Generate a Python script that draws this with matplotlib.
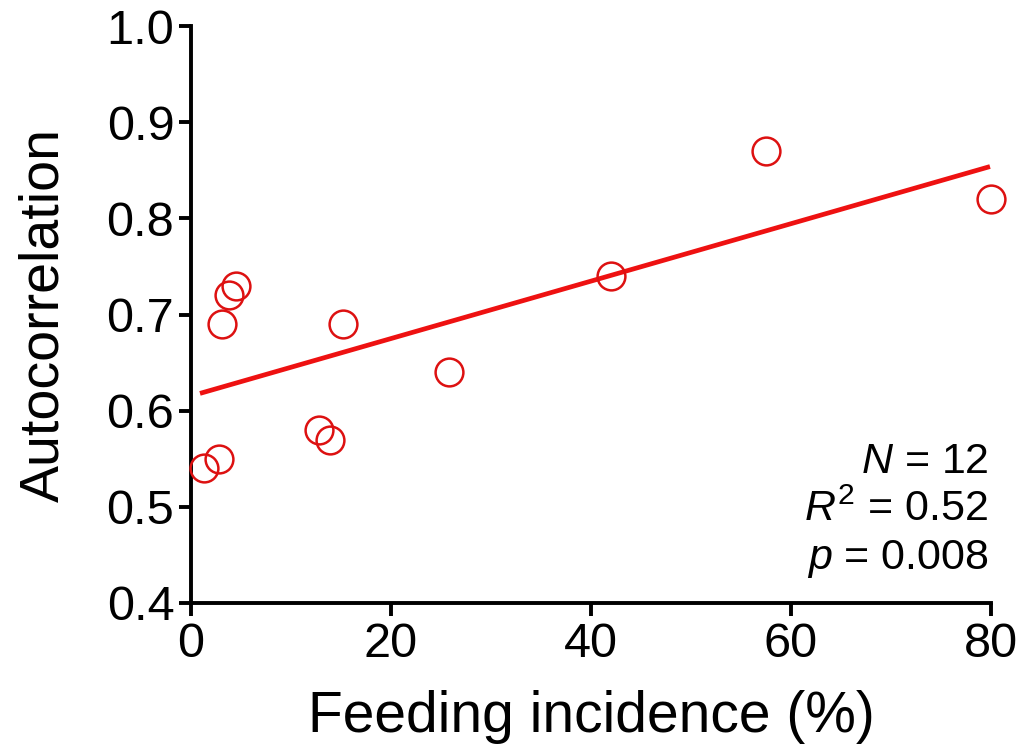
import matplotlib
matplotlib.use("Agg")
from matplotlib import pyplot as plt

plt.rcParams['font.family'] = ['Liberation Sans', 'DejaVu Sans']
plt.rcParams['mathtext.fontset'] = 'custom'
plt.rcParams['mathtext.it'] = 'Liberation Sans:italic'
plt.rcParams['mathtext.rm'] = 'Liberation Sans'

# data
feeding = [1.3, 2.8, 3.1, 3.8, 4.5, 12.8, 13.9, 15.2, 25.8, 42.0, 57.5, 80.0]
autocorr = [0.54, 0.55, 0.69, 0.72, 0.73, 0.58, 0.57, 0.69, 0.64, 0.74, 0.87, 0.82]
fit_x = [0.9, 79.9]
fit_y = [0.618, 0.854]
xticks = [0, 20, 40, 60, 80]
yticks = [0.4, 0.5, 0.6, 0.7, 0.8, 0.9, 1.0]

fig = plt.figure(figsize=(10.23, 7.49), dpi=100)
ax = fig.add_axes([0.1867, 0.195, 0.782, 0.77])

ax.plot(fit_x, fit_y, color='#ee1111', lw=3.4, solid_capstyle='butt', zorder=2)
ax.plot(feeding, autocorr, 'o', ms=20, mfc='none', mec='#dd1111', mew=1.8,
        zorder=3, clip_on=False)

ax.set_xlim(0, 80)
ax.set_ylim(0.4, 1.0)
ax.set_xticks(xticks)
ax.set_yticks(yticks)
ax.set_xticklabels([str(v) for v in xticks])
ax.set_yticklabels(['%.1f' % v for v in yticks])

for s in ['top', 'right']:
    ax.spines[s].set_visible(False)
for s in ['left', 'bottom']:
    ax.spines[s].set_linewidth(2.8)
    ax.spines[s].set_capstyle('projecting')
ax.tick_params(axis='both', labelsize=35, width=2.8, length=9, pad=3, direction='out')
ax.tick_params(axis='x', pad=5)

ax.set_xlabel('Feeding incidence (%)', fontsize=41, labelpad=16)
ax.set_ylabel('Autocorrelation', fontsize=40, labelpad=26)

ax.text(0.997, 0.16, '$N$ = 12\n$R^2$ = 0.52\n$p$ = 0.008', transform=ax.transAxes,
        ha='right', va='center', fontsize=31, linespacing=1.25)

fig.savefig('out.png', dpi=100)
